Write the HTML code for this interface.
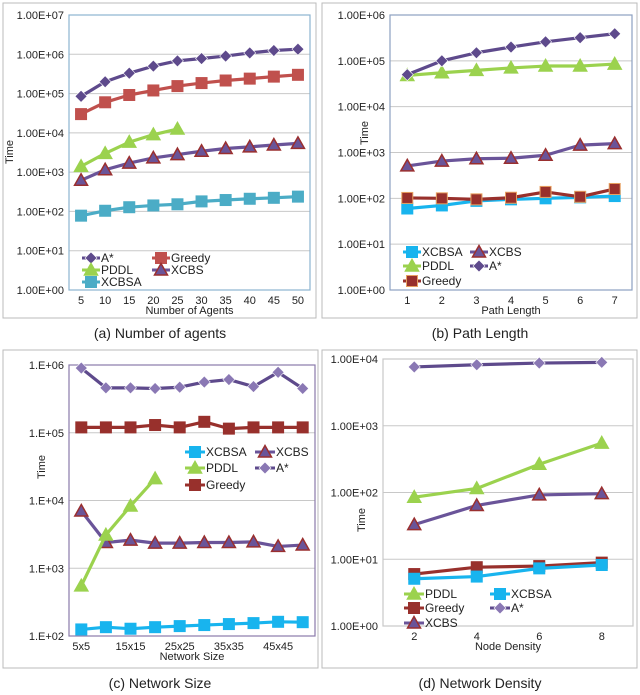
<!DOCTYPE html>
<html><head><meta charset="utf-8"><style>
body{margin:0;background:#fff;font-family:"Liberation Sans",sans-serif}
svg{display:block}
text{font-family:"Liberation Sans",sans-serif;fill:#222}
</style></head><body>
<svg id="fig" width="640" height="695"></svg>
<script>
// (a) Number of agents
const aCats=["5","10","15","20","25","30","35","40","45","50"];
const aAstar=[85000,200000,330000,500000,680000,780000,900000,1080000,1250000,1350000];
const aGreedy=[30000,60000,92000,120000,155000,185000,215000,240000,270000,300000];
const aPddl=[1400,3000,5800,9000,12500];
const aXcbs=[620,1150,1700,2300,2800,3400,4000,4400,4900,5400];
const aXcbsa=[78,104,128,142,152,180,195,210,222,238];
const aTicks=["1.00E+00","1.00E+01","1.00E+02","1.00E+03","1.00E+04","1.00E+05","1.00E+06","1.00E+07"];
// (b) Path length
const bCats=["1","2","3","4","5","6","7"];
const bAstar=[50000,100000,150000,200000,260000,320000,390000];
const bPddl=[48000,55000,62000,70000,77000,77000,85000];
const bXcbs=[510,650,730,750,870,1450,1560];
const bGreedy=[102,100,95,103,138,108,160];
const bXcbsa=[60,70,88,95,100,105,112];
const bTicks=["1.00E+00","1.00E+01","1.00E+02","1.00E+03","1.00E+04","1.00E+05","1.00E+06"];
// (c) Network size
const cCats=["5x5","10x10","15x15","20x20","25x25","30x30","35x35","40x40","45x45","50x50"];
const cAstar=[900000,460000,460000,450000,470000,560000,610000,480000,780000,450000];
const cGreedy=[120000,120000,120000,130000,120000,145000,115000,120000,120000,120000];
const cPddl=[550,3100,8300,21000];
const cXcbs=[7000,2400,2600,2350,2350,2400,2400,2450,2100,2200];
const cXcbsa=[125,135,128,135,140,145,150,155,162,160];
const cTicks=["1.E+02","1.E+03","1.E+04","1.E+05","1.E+06"];
// (d) Network density
const dCats=["2","4","6","8"];
const dAstar=[7600,8200,8700,8900];
const dPddl=[85,115,265,550];
const dXcbs=[33,64,92,96];
const dGreedy=[6,7.6,7.9,8.9];
const dXcbsa=[5.1,5.5,7.3,8.2];
const dTicks=["1.00E+00","1.00E+01","1.00E+02","1.00E+03","1.00E+04"];

const NS="http://www.w3.org/2000/svg";
const svg=document.getElementById('fig');
function mk(tag,attrs,parent){const e=document.createElementNS(NS,tag);for(const k in attrs)e.setAttribute(k,attrs[k]);(parent||svg).appendChild(e);return e;}

function marker(g,type,x,y,col,stroke){
  let e;
  if(type==='diamond'){e=mk('polygon',{points:`${x},${y-6} ${x+6},${y} ${x},${y+6} ${x-6},${y}`,fill:col,stroke:'#fff','stroke-width':0.6},g);}
  else if(type==='square'){e=mk('rect',{x:x-5.5,y:y-5.5,width:11,height:11,fill:col,stroke:stroke||col,'stroke-width':1},g);}
  else {e=mk('polygon',{points:`${x},${y-6.5} ${x+6.5},${y+5} ${x-6.5},${y+5}`,fill:col,stroke:stroke,'stroke-width':1.5},g);}
  return e;
}

function panel(p){
  const g=mk('g',{});
  
  
  const fr=mk('rect',{x:p.box[0],y:p.box[1],width:p.box[2],height:p.box[3],fill:'#fff',stroke:'#bbb','stroke-width':1},g);
  
  
  const L=p.plot[0],T=p.plot[1],R=p.plot[2],B=p.plot[3];
  const nDec=p.ticks.length-1;
  const yOf=v=>B-(Math.log10(v)-p.minExp)/nDec*(B-T);
  const step=(R-L)/p.cats.length;
  const xOf=i=>L+step*(i+0.5);
  p.ticks.forEach((t,i)=>{
    const y=B-i/nDec*(B-T);
    if(i>0&&i<nDec){const gl=mk('line',{x1:L,x2:R,y1:y,y2:y,stroke:'#c8c8c8','stroke-width':1},g);
      }
    const tx=mk('text',{x:L-5,y:y+4,'text-anchor':'end','font-size':p.fs},g);tx.textContent=t;
    
  });
  const pr=mk('rect',{x:L,y:T,width:R-L,height:B-T,fill:'none',stroke:p.frameCol,'stroke-width':1.2},g);
  
  p.cats.forEach((c,i)=>{
    if(p.every&&i%p.every)return;
    const tx=mk('text',{x:xOf(i),y:B+14,'text-anchor':'middle','font-size':p.fs},g);tx.textContent=c;
    
  });
  const xt=mk('text',{x:(L+R)/2,y:B+24,'text-anchor':'middle','font-size':p.fs},g);xt.textContent=p.xTitle;
  
  const yt=mk('text',{x:0,y:0,'text-anchor':'middle','font-size':p.fs,transform:`translate(${p.yTitleX},${p.yTitleY}) rotate(-90)`},g);yt.textContent='Time';
  
  p.series.forEach(s=>{
    const sg=mk('g',{},g);
    
    
    const pts=s.data.map((v,i)=>xOf(i)+','+yOf(v)).join(' ');
    mk('polyline',{points:pts,fill:'none',stroke:s.line,'stroke-width':3.2,'stroke-linejoin':'round'},sg);
    s.data.forEach((v,i)=>{const m=marker(sg,s.mk,xOf(i),yOf(v),s.fill,s.stroke);
      });
  });
  p.legend.forEach(le=>{
    const s=p.series.find(q=>q.key===le[0]);
    const lg=mk('g',{},g);
    
    
    mk('line',{x1:le[1],x2:le[1]+p.legW,y1:le[2],y2:le[2],stroke:s.line,'stroke-width':3},lg);
    marker(lg,s.mk,le[1]+p.legW/2,le[2],s.fill,s.stroke);
    const t=mk('text',{x:le[1]+p.legW+1,y:le[2]+4,'font-size':p.fs+1},lg);t.textContent=s.label;
  });
  const cap=mk('text',{x:p.cap[0],y:p.cap[1],'text-anchor':'middle','font-size':14},g);cap.textContent=p.capText;
  
}

const PUR='#5E4A8C',XL='#6A5499',TRI='#9A2F2F',GRN='#9BD24E',RED='#C0504D',DRED='#98302C';
panel({name:'chart-number-of-agents',box:[3,3,313,315],plot:[69,15,310,290],minExp:0,ticks:aTicks,cats:aCats,fs:11,frameCol:'#8db3d0',
 xTitle:'Number of Agents',yTitleX:13,yTitleY:152,capText:'(a) Number of agents',cap:[160,338],legW:18,
 series:[{key:'a-star',label:'A*',data:aAstar,line:PUR,fill:PUR,mk:'diamond'},
  {key:'greedy',label:'Greedy',data:aGreedy,line:RED,fill:RED,mk:'square'},
  {key:'pddl',label:'PDDL',data:aPddl,line:GRN,fill:GRN,mk:'tri',stroke:GRN},
  {key:'xcbs',label:'XCBS',data:aXcbs,line:XL,fill:XL,mk:'tri',stroke:TRI},
  {key:'xcbsa',label:'XCBSA',data:aXcbsa,line:'#4BACC6',fill:'#4BACC6',mk:'square'}],
 legend:[['a-star',82,258],['greedy',152,258],['pddl',82,270],['xcbs',152,270],['xcbsa',82,282]]});
panel({name:'chart-path-length',box:[322,3,315,315],plot:[390,15,632,290],minExp:0,ticks:bTicks,cats:bCats,fs:11,frameCol:'#8da0c0',
 xTitle:'Path Length',yTitleX:368,yTitleY:133,capText:'(b) Path Length',cap:[480,338],legW:18,
 series:[{key:'xcbsa',label:'XCBSA',data:bXcbsa,line:'#18B4EE',fill:'#18B4EE',mk:'square'},
  {key:'greedy',label:'Greedy',data:bGreedy,line:DRED,fill:DRED,mk:'square',stroke:'#E8A060'},
  {key:'xcbs',label:'XCBS',data:bXcbs,line:XL,fill:XL,mk:'tri',stroke:TRI},
  {key:'pddl',label:'PDDL',data:bPddl,line:GRN,fill:GRN,mk:'tri',stroke:GRN},
  {key:'a-star',label:'A*',data:bAstar,line:PUR,fill:PUR,mk:'diamond'}],
 legend:[['xcbsa',403,252],['xcbs',470,252],['pddl',403,266],['a-star',470,266],['greedy',403,281]]});
panel({name:'chart-network-size',box:[3,350,315,318],plot:[69,365,315,636],minExp:2,ticks:cTicks,cats:cCats,every:2,fs:11,frameCol:'#8a7aaa',
 xTitle:'Network Size',yTitleX:45,yTitleY:467,capText:'(c) Network Size',cap:[160,688],legW:20,
 series:[{key:'a-star',label:'A*',data:cAstar,line:PUR,fill:'#8A78B4',mk:'diamond'},
  {key:'greedy',label:'Greedy',data:cGreedy,line:DRED,fill:DRED,mk:'square'},
  {key:'xcbs',label:'XCBS',data:cXcbs,line:XL,fill:XL,mk:'tri',stroke:TRI},
  {key:'pddl',label:'PDDL',data:cPddl,line:GRN,fill:GRN,mk:'tri',stroke:GRN},
  {key:'xcbsa',label:'XCBSA',data:cXcbsa,line:'#18B4EE',fill:'#18B4EE',mk:'square'}],
 legend:[['xcbsa',185,452],['xcbs',255,452],['pddl',185,468],['a-star',255,468],['greedy',185,485]]});
panel({name:'chart-network-density',box:[322,350,315,318],plot:[383,359,633,626],minExp:0,ticks:dTicks,cats:dCats,fs:11,frameCol:'#c8c8c8',
 xTitle:'Node Density',yTitleX:365,yTitleY:520,capText:'(d) Network Density',cap:[480,688],legW:20,
 series:[{key:'a-star',label:'A*',data:dAstar,line:PUR,fill:'#8A78B4',mk:'diamond'},
  {key:'pddl',label:'PDDL',data:dPddl,line:GRN,fill:GRN,mk:'tri',stroke:GRN},
  {key:'xcbs',label:'XCBS',data:dXcbs,line:XL,fill:XL,mk:'tri',stroke:TRI},
  {key:'greedy',label:'Greedy',data:dGreedy,line:DRED,fill:DRED,mk:'square'},
  {key:'xcbsa',label:'XCBSA',data:dXcbsa,line:'#18B4EE',fill:'#18B4EE',mk:'square'}],
 legend:[['pddl',404,594],['xcbsa',490,594],['greedy',404,608],['a-star',490,608],['xcbs',404,623]]});
</script>
</body></html>
